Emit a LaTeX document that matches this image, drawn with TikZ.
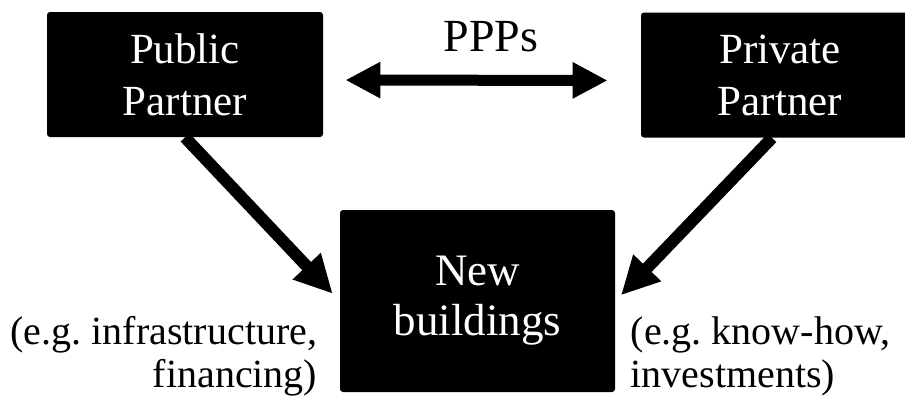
\documentclass[tikz,border=0pt]{standalone}
\usepackage{fontspec}
\setmainfont{Liberation Serif}
\usepackage{tikz}
\usetikzlibrary{arrows.meta,positioning,calc}
\tikzset{partnerbox/.style={rectangle, text centered, align=center, fill=black, text=white, rounded corners=1.5pt, minimum width=138pt, minimum height=62.5pt, font=\fontsize{21.5pt}{26pt}\selectfont}}
\tikzset{arrow/.style={line width=6pt, -{Triangle[length=19pt,width=18pt]}}}
\tikzset{dblarrow/.style={line width=5.5pt, {Triangle[length=17.5pt,width=17pt]}-{Triangle[length=17.5pt,width=17pt]}}}
\tikzset{note/.style={inner sep=0pt, font=\fontsize{20pt}{21.5pt}\selectfont}}

\begin{document}
\begin{tikzpicture}[x=0.5pt, y=-0.5pt]
  \useasboundingbox (0,0) rectangle (905,408);
  \clip (0,0) rectangle (905,408);

  \node[partnerbox] (public) at (185,74.5) {Public\\Partner};
  \node[partnerbox, minimum width=139pt] (private) at (780,75) {Private\\Partner};
  \node[partnerbox, minimum width=137.5pt, minimum height=91pt, font=\fontsize{22.5pt}{25pt}\selectfont] (buildings) at (477.5,301) {New\\buildings};

  \node[font=\fontsize{23pt}{26pt}\selectfont, inner sep=0pt] (ppps) at (491,37) {PPPs};

  \node[note, align=right, anchor=base east] (public-note) at ([xshift=-11pt, yshift=-43pt]buildings.west) {(e.g.\ infrastructure,\\financing)};
  \node[note, align=left, anchor=base west] (private-note) at ([xshift=7.5pt, yshift=-43pt]buildings.east) {(e.g.\ know-how,\\investments)};

  \draw[dblarrow, shorten <=11pt, shorten >=16.5pt] ([yshift=-2.75pt]public.east) -- ([yshift=-2.75pt]private.west);

  \draw[arrow, shorten >=5pt] (public.south) -- (buildings.west);
  \draw[arrow, shorten >=4pt] ([xshift=-4pt]private.south) -- (buildings.east);
\end{tikzpicture}
\end{document}
